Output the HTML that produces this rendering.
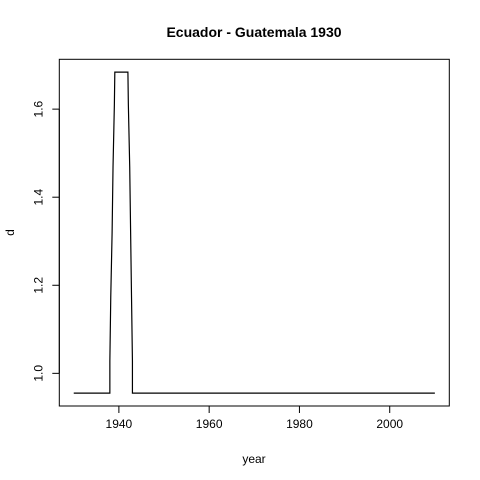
<!DOCTYPE html>
<html><head><meta charset="utf-8"><style>
body{margin:0;background:#fff}
svg{display:block;font-family:"Liberation Sans",Arial,sans-serif}
</style></head><body>
<svg id="chart" width="480" height="480" viewBox="0 0 480 480">
<rect width="480" height="480" fill="#fff"/>
<text x="254" y="37" text-anchor="middle" font-weight="bold" font-size="14">Ecuador - Guatemala 1930</text>
<rect x="59.3" y="59.3" width="390" height="346.7" fill="none" stroke="#000" stroke-width="1"/>
<g id="xaxis"></g>
<g id="yaxis"></g>
<text x="254" y="463" text-anchor="middle" font-size="12">year</text>
<text transform="translate(14,232.5) rotate(-90)" text-anchor="middle" font-size="12">d</text>
<g id="series"></g>
</svg>
<script>
const years=[1930,1938.0,1938.0,1938.2,1938.5,1938.7,1939.0,1939.1,1942.0,1942.1,1942.4,1942.6,1942.8,1943.0,1943.0,2010];
const dValues=[0.955,0.955,1.028,1.173,1.320,1.468,1.610,1.684,1.684,1.610,1.468,1.320,1.173,1.028,0.955,0.955];
const xTicks=[1940,1960,1980,2000];
const yTicks=[1.0,1.2,1.4,1.6];
const yTickLabels=["1.0","1.2","1.4","1.6"];
const NS="http://www.w3.org/2000/svg";
const L=59.3,R=449.3,T=59.3,B=406;
const xmin=Math.min(...years),xmax=Math.max(...years);
const ymin=Math.min(...dValues),ymax=Math.max(...dValues);
const xp=(xmax-xmin)*0.04,yp=(ymax-ymin)*0.04;
const sx=v=>L+(v-(xmin-xp))/((xmax+xp)-(xmin-xp))*(R-L);
const sy=v=>B-(v-(ymin-yp))/((ymax+yp)-(ymin-yp))*(B-T);
function mk(tag,attrs,parent){const e=document.createElementNS(NS,tag);for(const k in attrs)e.setAttribute(k,attrs[k]);parent.appendChild(e);return e;}
const xa=document.getElementById('xaxis');
mk('line',{x1:sx(xTicks[0]),x2:sx(xTicks[xTicks.length-1]),y1:B,y2:B,stroke:'#000'},xa);
xTicks.forEach(t=>{
  const l=mk('line',{x1:sx(t),x2:sx(t),y1:B,y2:B+7,stroke:'#000'},xa);
  
  
  const tx=mk('text',{x:sx(t),y:B+22,'text-anchor':'middle','font-size':'12'},xa);
  tx.textContent=t;
  
  
});
const ya=document.getElementById('yaxis');
mk('line',{x1:L,x2:L,y1:sy(yTicks[0]),y2:sy(yTicks[yTicks.length-1]),stroke:'#000'},ya);
yTicks.forEach((t,i)=>{
  const l=mk('line',{x1:L-7,x2:L,y1:sy(t),y2:sy(t),stroke:'#000'},ya);
  
  
  const tx=mk('text',{transform:`translate(${L-17},${sy(t)}) rotate(-90)`,'text-anchor':'middle','font-size':'12'},ya);
  tx.textContent=yTickLabels[i];
  
  
});
const pts=years.map((y,i)=>sx(y).toFixed(2)+','+sy(dValues[i]).toFixed(2)).join(' ');
const pl=mk('polyline',{points:pts,fill:'none',stroke:'#000','stroke-width':'1.2'},document.getElementById('series'));


</script>
</body></html>
